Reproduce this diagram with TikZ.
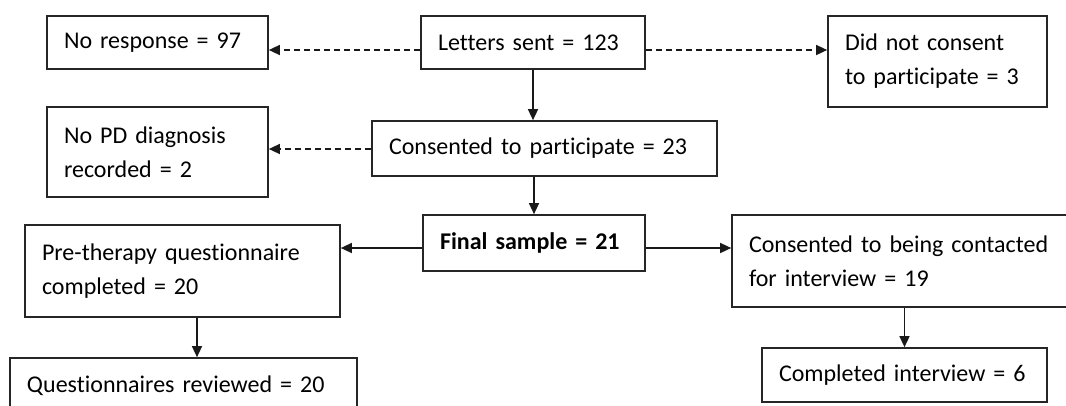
\documentclass[tikz,border=0pt]{standalone}
\usepackage{fontspec}
\setmainfont{Carlito}[Ligatures=NoCommon]
\usetikzlibrary{arrows.meta}
\begin{document}
\begin{tikzpicture}[x=1pt,y=-1pt,
  box/.style={draw=black!85, line width=1.7pt, rectangle, inner xsep=17pt, inner ysep=0pt,
    align=left, font=\fontsize{24}{34}\selectfont},
  arr/.style={draw=black!90, line width=1.5pt, -{Triangle[length=11pt,width=10pt]}},
  darr/.style={arr, dash pattern=on 6pt off 4pt}
]
\useasboundingbox (0,0) rectangle (1066,405);
% boxes (centre, width, height from the reference)
\node[box, text width=187pt, minimum height=53pt] (noresp) at (157.5,42.5) {\mbox{No response = 97}};
\node[box, text width=190pt, minimum height=53pt] (letters) at (533,42.5) {\mbox{Letters sent = 123}};
\node[box, text width=185pt, minimum height=91pt] (didnot) at (937.5,61.5) {\mbox{Did not consent}\\\mbox{to participate = 3}};
\node[box, text width=187pt, minimum height=90pt] (nopd) at (157.5,152) {\mbox{No PD diagnosis}\\\mbox{recorded = 2}};
\node[box, text width=311pt, minimum height=55pt] (consent) at (544.5,148.5) {\mbox{Consented to participate = 23}};
\node[box, text width=188pt, minimum height=56pt] (final) at (534,243) {\mbox{\textbf{Final sample = 21}}};
\node[box, text width=281pt, minimum height=92pt] (pre) at (182.5,271) {\mbox{Pre-therapy questionnaire}\\\mbox{completed = 20}};
\node[box, text width=313pt, minimum height=55pt] (quest) at (183.5,385.5) {\mbox{Questionnaires reviewed = 20}};
\node[box, text width=304pt, minimum height=92pt] (contact) at (901,261) {\mbox{Consented to being contacted}\\\mbox{for interview = 19}};
\node[box, text width=251pt, minimum height=54pt] (complete) at (904.5,375) {\mbox{Completed interview = 6}};
% connector start points
\coordinate (l1) at ([yshift=-7.5pt]letters.west);
\coordinate (l2) at ([yshift=-7.5pt]letters.east);
\coordinate (c1) at ([yshift=-0.5pt]consent.west);
\coordinate (f1) at ([yshift=-5pt]final.west);
\coordinate (f2) at ([yshift=-5pt]final.east);
\coordinate (p1) at ([xshift=14.5pt]pre.south);
% connectors
\draw[darr] (l1) -- (l1 -| noresp.east);
\draw[darr] (l2) -- (l2 -| didnot.west);
\draw[darr] (c1) -- (c1 -| nopd.east);
\draw[arr] (letters.south) -- (letters.south |- consent.north);
\draw[arr] (final.north |- consent.south) -- (final.north);
\draw[arr] (f1) -- (f1 -| pre.east);
\draw[arr] (f2) -- (f2 -| contact.west);
\draw[arr] (p1) -- (p1 |- quest.north);
\draw[arr] (complete.north |- contact.south) -- (complete.north);
\end{tikzpicture}
\end{document}
